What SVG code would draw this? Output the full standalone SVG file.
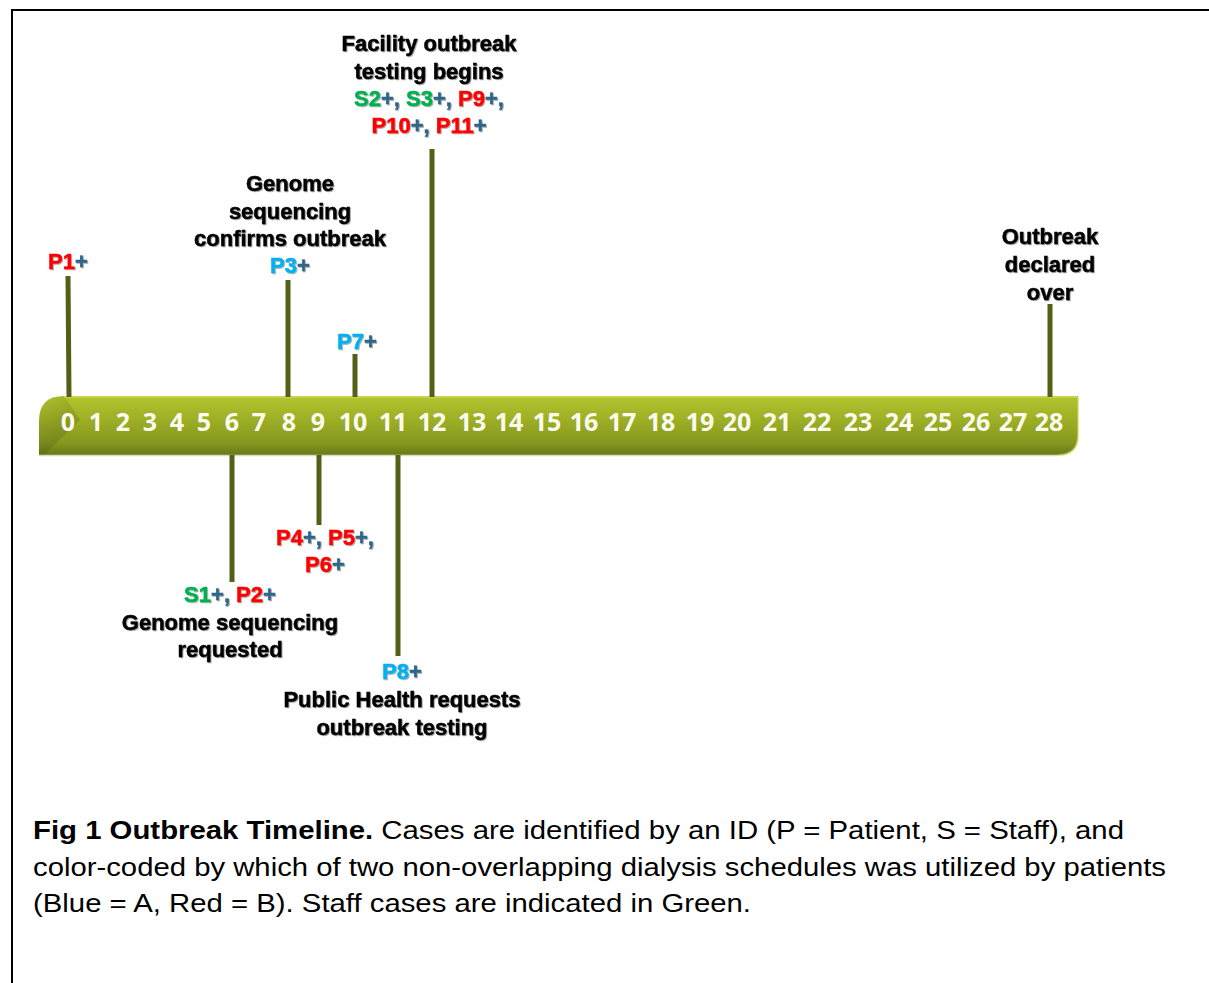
<svg xmlns="http://www.w3.org/2000/svg" width="1209" height="983" viewBox="0 0 1209 983">
<defs>
<linearGradient id="barGrad" x1="0" y1="0" x2="0" y2="1">
<stop offset="0" stop-color="#b3c42e"/>
<stop offset="0.35" stop-color="#a0b226"/>
<stop offset="0.8" stop-color="#86961f"/>
<stop offset="1" stop-color="#6b7818"/>
</linearGradient>
<linearGradient id="leftShade" x1="0" y1="0" x2="1" y2="1">
<stop offset="0" stop-color="#000" stop-opacity="0"/>
<stop offset="1" stop-color="#3e4610" stop-opacity="0.25"/>
</linearGradient>
<filter id="shadow" x="-5%" y="-20%" width="110%" height="140%">
<feDropShadow dx="1" dy="1" stdDeviation="0.6" flood-color="#000" flood-opacity="0.35"/>
</filter>
</defs>
<style>
.frame{fill:none;stroke:#000;stroke-width:2}
.stem{stroke:#556017;stroke-width:5;fill:none}
.num{font-family:"Open Sans","Liberation Sans",sans-serif;font-weight:700;font-size:25px;fill:#fbfbf0;text-anchor:middle}
.lbl{font-family:"Liberation Sans",Arial,sans-serif;font-weight:700;font-size:22px;fill:#000;stroke:#000;stroke-width:0.5;text-anchor:middle}
.r{fill:#ff0000;stroke:#ff0000}
.g{fill:#00b050;stroke:#00b050}
.b{fill:#00b0f0;stroke:#00b0f0}
.p{fill:#2f6688;stroke:#2f6688}
.cap{font-family:"Liberation Sans",Arial,sans-serif;font-size:26px;fill:#000}
</style>
<rect width="1209" height="983" fill="#fff"/>
<path class="frame" d="M12,983 V10 H1209"/>

<g id="timeline-bar">
<path d="M64,396 H1078 V435 Q1078,455 1058,455 H39 V421 Q39,396 64,396 Z" fill="url(#barGrad)"/>
<path d="M39,421 Q39,396 64,396 L80,420 L44,455 H39 Z" fill="url(#leftShade)"/>
<path d="M64,397 H1077" stroke="#d6e06a" stroke-width="1.5" opacity="0.7"/>
<path d="M1078,398 V435 Q1078,455 1058,455" stroke="#c9d858" stroke-width="2" fill="none" opacity="0.6"/>
<path d="M39,455.5 H1058" stroke="#d8dcc0" stroke-width="1.5"/>
<g id="ticks">
<text class="num" x="68" y="431">0</text>
<text class="num" x="96" y="431">1</text>
<text class="num" x="123" y="431">2</text>
<text class="num" x="150" y="431">3</text>
<text class="num" x="177" y="431">4</text>
<text class="num" x="204" y="431">5</text>
<text class="num" x="232" y="431">6</text>
<text class="num" x="259" y="431">7</text>
<text class="num" x="289" y="431">8</text>
<text class="num" x="318" y="431">9</text>
<text class="num" x="353" y="431">10</text>
<text class="num" x="393" y="431">11</text>
<text class="num" x="432" y="431">12</text>
<text class="num" x="472" y="431">13</text>
<text class="num" x="509" y="431">14</text>
<text class="num" x="547" y="431">15</text>
<text class="num" x="584" y="431">16</text>
<text class="num" x="622" y="431">17</text>
<text class="num" x="661" y="431">18</text>
<text class="num" x="700" y="431">19</text>
<text class="num" x="737" y="431">20</text>
<text class="num" x="777" y="431">21</text>
<text class="num" x="817" y="431">22</text>
<text class="num" x="858" y="431">23</text>
<text class="num" x="899" y="431">24</text>
<text class="num" x="938" y="431">25</text>
<text class="num" x="976" y="431">26</text>
<text class="num" x="1013" y="431">27</text>
<text class="num" x="1049" y="431">28</text>
</g>
</g>

<g id="connectors">
<line class="stem" x1="68" y1="276" x2="69" y2="397"/>
<line class="stem" x1="288" y1="280" x2="288" y2="397"/>
<line class="stem" x1="355" y1="354" x2="355" y2="397"/>
<line class="stem" x1="432" y1="149" x2="432" y2="397"/>
<line class="stem" x1="1050" y1="304" x2="1050" y2="397"/>
<line class="stem" x1="232" y1="455" x2="232" y2="582"/>
<line class="stem" x1="319" y1="455" x2="319" y2="525"/>
<line class="stem" x1="398" y1="455" x2="398" y2="656"/>
</g>

<g id="day0" filter="url(#shadow)">
<text class="lbl" x="68" y="269"><tspan class="r">P1</tspan><tspan class="p">+</tspan></text>
</g>

<g id="day8" filter="url(#shadow)">
<text class="lbl" x="290" y="191">Genome</text>
<text class="lbl" x="290" y="219">sequencing</text>
<text class="lbl" x="290" y="246">confirms outbreak</text>
<text class="lbl" x="290" y="273"><tspan class="b">P3</tspan><tspan class="p">+</tspan></text>
</g>

<g id="day10" filter="url(#shadow)">
<text class="lbl" x="357" y="349"><tspan class="b">P7</tspan><tspan class="p">+</tspan></text>
</g>

<g id="day12" filter="url(#shadow)">
<text class="lbl" x="429" y="51">Facility outbreak</text>
<text class="lbl" x="429" y="79">testing begins</text>
<text class="lbl" x="429" y="106"><tspan class="g">S2</tspan><tspan class="p">+, </tspan><tspan class="g">S3</tspan><tspan class="p">+, </tspan><tspan class="r">P9</tspan><tspan class="p">+,</tspan></text>
<text class="lbl" x="429" y="133"><tspan class="r">P10</tspan><tspan class="p">+, </tspan><tspan class="r">P11</tspan><tspan class="p">+</tspan></text>
</g>

<g id="day28" filter="url(#shadow)">
<text class="lbl" x="1050" y="244">Outbreak</text>
<text class="lbl" x="1050" y="272">declared</text>
<text class="lbl" x="1050" y="300">over</text>
</g>

<g id="day6" filter="url(#shadow)">
<text class="lbl" x="230" y="602"><tspan class="g">S1</tspan><tspan class="p">+, </tspan><tspan class="r">P2</tspan><tspan class="p">+</tspan></text>
<text class="lbl" x="230" y="630">Genome sequencing</text>
<text class="lbl" x="230" y="657">requested</text>
</g>

<g id="day9" filter="url(#shadow)">
<text class="lbl" x="325" y="545"><tspan class="r">P4</tspan><tspan class="p">+, </tspan><tspan class="r">P5</tspan><tspan class="p">+,</tspan></text>
<text class="lbl" x="325" y="572"><tspan class="r">P6</tspan><tspan class="p">+</tspan></text>
</g>

<g id="day11" filter="url(#shadow)">
<text class="lbl" x="402" y="679"><tspan class="b">P8</tspan><tspan class="p">+</tspan></text>
<text class="lbl" x="402" y="707">Public Health requests</text>
<text class="lbl" x="402" y="735">outbreak testing</text>
</g>

<g id="caption">
<text class="cap" x="33" y="839" textLength="1091" lengthAdjust="spacingAndGlyphs"><tspan font-weight="700">Fig 1 Outbreak Timeline.</tspan> Cases are identified by an ID (P = Patient, S = Staff), and</text>
<text class="cap" x="33" y="876" textLength="1133" lengthAdjust="spacingAndGlyphs">color-coded by which of two non-overlapping dialysis schedules was utilized by patients</text>
<text class="cap" x="33" y="912" textLength="718" lengthAdjust="spacingAndGlyphs">(Blue = A, Red = B). Staff cases are indicated in Green.</text>
</g>
</svg>
